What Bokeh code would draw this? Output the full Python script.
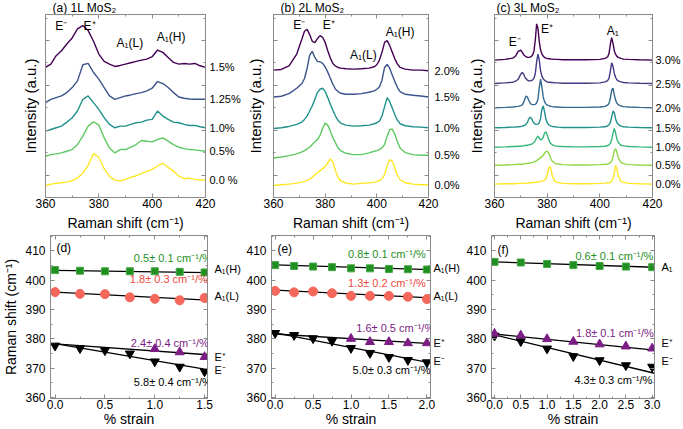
from bokeh.plotting import figure
from bokeh.layouts import row, column
from bokeh.models import Range1d, FixedTicker, Label, LinearAxis, PrintfTickFormatter
from bokeh.embed import file_html
from bokeh.resources import INLINE

FONT = "Liberation Sans"
FRAME = "#8a8a8a"

# ---------------------------------------------------------------- spectra
# Raman shift grids (cm^-1) and intensities (a.u., above each trace's baseline)
shift_1L = list(range(360, 421, 2))
int_1L_000 = [-3, 2, 4, 6, 8, 12, 20, 35, 58, 93, 82, 48, 25, 14, 12, 16, 22, 27, 33, 40, 46, 56, 64, 52, 40, 26, 18, 20, 16, 14, 15]
int_1L_050 = [-5, 0, 2, 5, 10, 15, 30, 55, 85, 98, 88, 50, 20, 5, 15, 15, 22, 30, 42, 40, 38, 45, 50, 40, 30, 22, 18, 15, 14, 12, 10]
int_1L_100 = [-5, 0, 5, 10, 22, 35, 55, 90, 100, 80, 60, 35, 15, 5, 10, 10, 15, 20, 22, 28, 30, 55, 40, 30, 22, 20, 15, 12, 12, 8, 5]
int_1L_125 = [-5, 5, 10, 15, 25, 40, 60, 108, 112, 85, 65, 40, 15, 5, 10, 15, 18, 22, 25, 30, 38, 58, 52, 40, 25, 12, 8, 6, 5, 5, 5]
int_1L_150 = [0, 10, 35, 50, 70, 88, 115, 125, 110, 78, 40, 18, 10, 3, 6, 10, 14, 18, 22, 25, 32, 52, 45, 30, 15, 10, 12, 10, 12, 5, 0]
strain_lbl_1L = ["0.0 %", "0.5%", "1.0%", "1.25%", "1.5%"]

shift_2L = [360, 363, 366, 369, 371, 372, 373, 374, 375, 376, 377, 378, 379, 380, 381, 382, 383, 384, 385, 386,
            388, 391, 394, 397, 399, 400, 401, 402, 403, 404, 405, 406, 407, 408, 409, 411, 414, 417, 420]
int_2L_000 = [0, 2, 4, 7, 10, 12, 15, 19, 24, 32, 37, 44, 50, 56, 67, 79, 70, 44, 24, 14,
              7, 4, 6, 8, 10, 12, 14, 20, 32, 60, 77, 72, 52, 30, 17, 8, 4, 2, 2]
int_2L_050 = [0, 3, 7, 12, 18, 22, 27, 32, 40, 48, 55, 67, 88, 104, 98, 80, 60, 45, 30, 22,
              14, 10, 10, 15, 20, 22, 25, 30, 40, 65, 85, 86, 70, 48, 30, 16, 10, 8, 8]
int_2L_100 = [0, 2, 6, 12, 19, 27, 37, 52, 67, 87, 107, 117, 120, 110, 92, 72, 54, 37, 24, 16,
              10, 7, 8, 10, 14, 17, 22, 37, 65, 92, 80, 60, 40, 24, 14, 8, 5, 4, 2]
int_2L_150 = [0, 2, 10, 26, 40, 55, 85, 125, 136, 118, 106, 105, 100, 90, 74, 56, 38, 23, 16, 11,
              8, 8, 10, 14, 18, 23, 30, 50, 88, 97, 85, 65, 45, 28, 16, 8, 5, 3, 0]
int_2L_200 = [2, 4, 15, 50, 95, 118, 124, 108, 88, 84, 96, 105, 100, 85, 60, 38, 22, 14, 10, 8,
              6, 5, 6, 8, 12, 18, 32, 55, 85, 90, 75, 55, 35, 20, 10, 5, 2, 2, 0]
strain_lbl_2L = ["0.0%", "0.5%", "1.0%", "1.5%", "2.0%"]

shift_3L = [360, 364, 367, 368, 369,
            370, 370.5, 371, 371.5, 372, 372.5, 373, 373.5, 374, 374.5, 375, 375.5, 376, 376.5, 377,
            377.5, 378, 378.5, 379, 379.5, 380, 380.5, 381, 381.5, 382,
            383, 384, 386, 390, 395, 400, 402, 403,
            403.5, 404, 404.5, 405, 405.5, 406, 406.5, 407,
            408, 409, 411, 415, 420]
int_3L_000 = [0, 1, 1, 1, 2,
              2, 2, 2, 3, 3, 3, 3, 4, 4, 4, 5, 5, 6, 6, 7, 8, 9, 10, 12, 16, 26, 45, 53, 42, 24,
              8, 5, 2, 1, 1, 2, 3, 4,
              4, 6, 9, 16, 34, 56, 44, 25,
              9, 5, 2, 1, 0]
int_3L_050 = [0, 1, 2, 2, 3,
              3, 4, 4, 5, 5, 6, 6, 7, 8, 9, 10, 12, 14, 17, 20, 23, 26, 30, 36, 41, 42, 38, 28, 18, 12,
              6, 4, 2, 1, 1, 2, 3, 4,
              5, 8, 13, 25, 44, 50, 38, 22,
              9, 5, 2, 1, 0]
int_3L_100 = [0, 1, 2, 2, 3,
              3, 4, 4, 5, 5, 6, 7, 8, 9, 11, 14, 20, 28, 33, 28, 22, 23, 30, 42, 46, 38, 25, 15, 10, 7,
              4, 3, 2, 1, 1, 2, 3, 5,
              7, 12, 22, 42, 56, 42, 24, 14,
              6, 4, 2, 1, 0]
int_3L_150 = [0, 1, 2, 2, 3,
              4, 5, 6, 8, 11, 16, 26, 32, 28, 20, 14, 11, 10, 11, 15, 28, 55, 65, 48, 26, 15, 10, 7, 5, 4,
              3, 2, 1, 1, 1, 2, 3, 6,
              9, 16, 32, 50, 45, 26, 15, 10,
              5, 3, 2, 1, 0]
int_3L_200 = [0, 1, 2, 3, 4,
              6, 8, 14, 25, 35, 32, 22, 14, 10, 9, 9, 10, 14, 25, 60, 85, 62, 32, 18, 11, 8, 6, 5, 4, 3,
              2, 2, 1, 1, 1, 2, 4, 8,
              13, 28, 52, 58, 38, 22, 13, 9,
              5, 3, 2, 1, 0]
int_3L_250 = [0, 2, 4, 7, 13,
              28, 33, 29, 20, 14, 10, 8, 8, 9, 11, 16, 30, 65, 88, 70, 38, 22, 14, 10, 7, 5, 4, 4, 3, 3,
              2, 2, 1, 1, 1, 2, 5, 9,
              16, 38, 62, 52, 30, 18, 11, 8,
              5, 3, 2, 1, 0]
int_3L_300 = [0, 2, 6, 12, 26,
              30, 24, 17, 13, 10, 8, 8, 9, 11, 15, 28, 60, 108, 95, 55, 30, 18, 12, 8, 6, 5, 4, 4, 3, 3,
              2, 2, 1, 1, 1, 2, 5, 10,
              20, 48, 67, 50, 28, 17, 11, 8,
              5, 3, 2, 1, 0]
strain_lbl_3L = ["0.0%", "0.5%", "1.0%", "1.5%", "2.0%", "2.5%", "3.0%"]

# ------------------------------------------------------- peak positions
strain_1L = [0, 0.25, 0.5, 0.75, 1.0, 1.25, 1.5]
a1h_1L = [403.4, 403.2, 403.0, 403.0, 403.0, 402.8, 402.6]
a1l_1L = [395.9, 395.3, 395.2, 394.1, 393.6, 393.1, 393.9]
em_1L = [377.6, 376.7, 376.0, 374.9, 372.2, 370.4, 368.8]
strain_ep_1L = [1.0, 1.25, 1.5]
ep_1L = [376.5, 375.4, 373.8]

strain_2L = [0, 0.25, 0.5, 0.75, 1.0, 1.25, 1.5, 1.75, 2.0]
a1h_2L = [405.1, 404.8, 404.6, 404.4, 404.0, 404.0, 403.8, 403.7, 403.6]
a1l_2L = [396.3, 395.8, 396.1, 395.5, 394.6, 394.6, 394.6, 394.3, 393.5]
em_2L = [381.9, 381.2, 380.1, 379.2, 376.8, 375.1, 373.7, 372.7, 371.9]
strain_ep_2L = [1.0, 1.25, 1.5, 1.75, 2.0]
ep_2L = [380.0, 378.9, 378.9, 378.5, 378.5]

strain_3L = [0, 0.5, 1.0, 1.5, 2.0, 2.5, 3.0]
a1_3L = [406.2, 406.0, 405.5, 405.1, 404.8, 404.6, 404.4]
ep_3L = [381.7, 381.1, 379.9, 379.0, 378.1, 377.4, 376.7]
em_3L = [381.0, 379.1, 376.6, 374.0, 372.6, 370.9, 370.4]

# linear fits: intercept (cm^-1), slope and error (cm^-1/%)
fit_name_1L = ["A₁(H)", "A₁(L)", "E⁺", "E⁻"]
fit_icpt_1L = [403.3, 395.9, 378.2, 378.3]
fit_slope_1L = [0.5, 1.8, 2.4, 5.8]
fit_err_1L = [0.1, 0.3, 0.4, 0.4]

fit_name_2L = ["A₁(H)", "A₁(L)", "E⁺", "E⁻"]
fit_icpt_2L = [405.2, 396.6, 381.6, 382.0]
fit_slope_2L = [0.8, 1.3, 1.6, 5.0]
fit_err_2L = [0.1, 0.2, 0.5, 0.3]

fit_name_3L = ["A₁", "E⁺", "E⁻"]
fit_icpt_3L = [406.2, 381.6, 381.3]
fit_slope_3L = [0.6, 1.8, 4.3]
fit_err_3L = [0.1, 0.1, 0.3]

VIRIDIS5 = ["#fde725", "#5ec962", "#21918c", "#3b528b", "#440154"]
VIRIDIS7 = ["#fde725", "#8fd744", "#35b779", "#21918c", "#31688e", "#443983", "#440154"]
GREEN, RED, PURPLE, BLACK = "#1f8f1f", "#f0483c", "#7b1d84", "#000000"


def style_axis(ax, ticks, minor, labels=True, label_size="12px"):
    ax.ticker = FixedTicker(ticks=ticks, minor_ticks=minor)
    ax.axis_line_color = FRAME
    ax.major_tick_line_color = FRAME
    ax.minor_tick_line_color = FRAME
    ax.major_tick_in = 4
    ax.major_tick_out = 0
    ax.minor_tick_in = 2
    ax.minor_tick_out = 0
    ax.major_label_text_font = FONT
    if labels:
        ax.major_label_text_color = "black"
        ax.major_label_text_font_size = label_size
        ax.major_label_standoff = 1
    else:
        ax.major_label_text_color = None
        ax.major_label_text_font_size = "0px"
        ax.major_label_standoff = 0
    ax.axis_label_text_font = FONT
    ax.axis_label_text_font_style = "normal"
    ax.axis_label_text_font_size = "14px"
    ax.axis_label_text_color = "black"


def text_axis(p, loc, positions, texts, size, standoff):
    """An axis with no line or ticks, used only to write texts beside the frame."""
    pos = [float(v) for v in positions]
    ax = LinearAxis(ticker=FixedTicker(ticks=pos, minor_ticks=[]),
                    major_label_overrides={v: t for v, t in zip(pos, texts)})
    ax.axis_line_color = None
    ax.major_tick_line_color = None
    ax.minor_tick_line_color = None
    ax.major_tick_in = 0
    ax.major_tick_out = 0
    ax.major_label_standoff = standoff
    ax.major_label_text_font = FONT
    ax.major_label_text_font_size = size
    ax.major_label_text_color = "black"
    p.add_layout(ax, loc)


def base_figure(width, height, xr, yr, left, right, top, bottom):
    p = figure(width=width, height=height, x_range=Range1d(*xr), y_range=Range1d(*yr),
               output_backend="svg", toolbar_location=None,
               min_border_left=left, min_border_right=right,
               min_border_top=top, min_border_bottom=bottom)
    p.xgrid.visible = False
    p.ygrid.visible = False
    p.outline_line_color = FRAME
    p.background_fill_color = "white"
    p.border_fill_color = "white"
    return p


def add_mirrors(p, xt, xm, yt, ym):
    for loc, t, m in (("above", xt, xm), ("right", yt, ym)):
        ax = LinearAxis()
        style_axis(ax, t, m, labels=False)
        p.add_layout(ax, loc)


def label(p, x, y, text, size="12px", color="black", align="center"):
    p.add_layout(Label(x=x, y=y, text=text, text_font=FONT, text_font_size=size,
                       text_color=color, text_align=align, text_baseline="middle"))


def title_strip(width, text_left, text):
    """A thin figure over a spectra panel that carries its title."""
    p = figure(width=width, height=14, x_range=Range1d(0, width), y_range=Range1d(0, 14),
               x_axis_type=None, y_axis_type=None, output_backend="svg", toolbar_location=None,
               min_border_left=0, min_border_right=0, min_border_top=0, min_border_bottom=0)
    p.grid.visible = False
    p.outline_line_color = None
    p.background_fill_color = "white"
    p.border_fill_color = "white"
    label(p, text_left, 7, text, size="12px", align="left")
    return p


Y_TOP = 546  # intensity span of the stacked-spectra frames


def spectra_panel(width, left, right, shifts, curves, offsets, colors,
                  strain_labels, strain_dx, peak_labels, ylab_standoff):
    p = base_figure(width, 219, (360, 420), (0, Y_TOP), left, right, 0, 36)
    xt, xm = [360, 380, 400, 420], [370, 390, 410]
    yt, ym = [66, 200, 335, 468], [133, 268, 402, 535]
    style_axis(p.below[0], xt, xm)
    p.below[0].axis_label = "Raman shift (cm⁻¹)"
    p.below[0].axis_label_standoff = 4
    style_axis(p.left[0], yt, ym, labels=False)
    p.left[0].axis_label = "Intensity (a.u.)"
    p.left[0].axis_label_text_font_size = "15px"
    p.left[0].axis_label_standoff = ylab_standoff
    add_mirrors(p, xt, xm, yt, ym)
    ends = []
    for vals, off, col in zip(curves, offsets, colors):
        ys = [off + v for v in vals]
        p.line(shifts, ys, line_color=col, line_width=1.4)
        ends.append(ys[-1])
    text_axis(p, "right", ends, strain_labels, "11px", strain_dx)
    for text, x, y in peak_labels:
        label(p, x, y, text, size="12px")
    return p


def shift_panel(width, left, right, xr, xt, xm, panel, panel_xy, series, fits, fit_text_xy,
                fit_colors, right_label_y, right_dx, ylabel):
    p = base_figure(width, 196, xr, (359.6, 415.2), left, right, 2, 30)
    yt = [360, 370, 380, 390, 400, 410]
    ym = [365, 375, 385, 395, 405, 415]
    style_axis(p.below[0], xt, xm)
    p.below[0].formatter = PrintfTickFormatter(format="%.1f")
    p.below[0].axis_label = "% strain"
    p.below[0].axis_label_standoff = -1
    style_axis(p.left[0], yt, ym)
    p.left[0].major_label_standoff = 5
    if ylabel:
        p.left[0].axis_label = "Raman shift (cm⁻¹)"
        p.left[0].axis_label_standoff = 3
    add_mirrors(p, xt, xm, yt, ym)
    names, icpts, slopes, errs = fits
    x_end = xr[1]
    for b, s in zip(icpts, slopes):
        p.line([0, x_end], [b, b - s * x_end], line_color="black", line_width=1.3)
    for xs, ys, marker, fill, line, size in series:
        p.scatter(xs, ys, marker=marker, size=size, fill_color=fill, line_color=line, line_width=1)
    for (tx, ty), s, e, col in zip(fit_text_xy, slopes, errs, fit_colors):
        label(p, tx, ty, f"{s}± {e} cm⁻¹/%", size="11px", color=col, align="left")
    text_axis(p, "right", right_label_y, names, "11px", right_dx)
    label(p, panel_xy[0], panel_xy[1], panel, size="12px", align="left")
    return p


ta = title_strip(243, 52, "(a) 1L MoS₂")
tb = title_strip(219, 37, "(b) 2L MoS₂")
tc = title_strip(221, 34, "(c) 3L MoS₂")

pa = spectra_panel(243, 45, 35, shift_1L,
                   [int_1L_000, int_1L_050, int_1L_100, int_1L_125, int_1L_150],
                   [38, 128, 203, 288, 388], VIRIDIS5, strain_lbl_1L, 4,
                   [("E⁻", 365.9, 513), ("E⁺", 376.5, 513), ("A₁(L)", 391.6, 460), ("A₁(H)", 407.1, 480)], 7)
pb = spectra_panel(219, 26, 31, shift_2L,
                   [int_2L_000, int_2L_050, int_2L_100, int_2L_150, int_2L_200],
                   [36, 118, 206, 300, 378], VIRIDIS5, strain_lbl_2L, 6,
                   [("E⁻", 370.0, 516), ("E⁺", 381.4, 516), ("A₁(L)", 394.8, 425), ("A₁(H)", 409.0, 493)], 10)
pc = spectra_panel(221, 32, 29, shift_3L,
                   [int_3L_000, int_3L_050, int_3L_100, int_3L_150, int_3L_200, int_3L_250, int_3L_300],
                   [40, 96, 150, 208, 268, 340, 410], VIRIDIS7, strain_lbl_3L, 3,
                   [("E⁻", 367.7, 463), ("E⁺", 379.9, 503), ("A₁", 404.9, 498)], 10)

pd = shift_panel(243, 46, 35, (-0.046, 1.529), [0, 0.5, 1.0, 1.5], [0.25, 0.75, 1.25], "(d)", (0.013, 411.0),
                 [(strain_1L, a1h_1L, "square", GREEN, "#48a848", 7),
                  (strain_1L, a1l_1L, "circle", "#f4675b", "#f4675b", 9),
                  (strain_1L, em_1L, "inverted_triangle", BLACK, BLACK, 9),
                  (strain_ep_1L, ep_1L, "triangle", PURPLE, PURPLE, 9)],
                 (fit_name_1L, fit_icpt_1L, fit_slope_1L, fit_err_1L),
                 [(0.79, 407.5), (0.75, 400.4), (0.76, 378.7), (0.79, 365.3)],
                 [GREEN, RED, PURPLE, BLACK], [403.8, 394.7, 373.9, 369.4], 7, True)
pe = shift_panel(219, 26, 30, (-0.048, 2.048), [0, 0.5, 1.0, 1.5, 2.0], [0.25, 0.75, 1.25, 1.75], "(e)", (0.03, 410.7),
                 [(strain_2L, a1h_2L, "square", GREEN, "#48a848", 7),
                  (strain_2L, a1l_2L, "circle", "#f4675b", "#f4675b", 9),
                  (strain_2L, em_2L, "inverted_triangle", BLACK, BLACK, 9),
                  (strain_ep_2L, ep_2L, "triangle", PURPLE, PURPLE, 9)],
                 (fit_name_2L, fit_icpt_2L, fit_slope_2L, fit_err_2L),
                 [(0.96, 408.9), (0.96, 399.0), (1.07, 383.8), (1.02, 369.4)],
                 [GREEN, RED, PURPLE, BLACK], [404.0, 394.5, 378.7, 372.3], 3, False)
pf = shift_panel(221, 29, 29, (-0.057, 3.044), [0, 0.5, 1.0, 1.5, 2.0, 2.5, 3.0], [0.25, 0.75, 1.25, 1.75, 2.25, 2.75],
                 "(f)", (0.057, 410.4),
                 [(strain_3L, a1_3L, "square", GREEN, "#48a848", 7),
                  (strain_3L, em_3L, "inverted_triangle", BLACK, BLACK, 9),
                  (strain_3L, ep_3L, "triangle", PURPLE, PURPLE, 9)],
                 (fit_name_3L, fit_icpt_3L, fit_slope_3L, fit_err_3L),
                 [(1.54, 408.3), (1.55, 381.8), (1.52, 365.8)],
                 [GREEN, PURPLE, BLACK], [404.6, 378.7, 372.5], 7, False)

layout = column(row(ta, tb, tc), row(pa, pb, pc), row(pd, pe, pf))

with open("out.html", "w") as fh:
    fh.write(file_html(layout, INLINE))
